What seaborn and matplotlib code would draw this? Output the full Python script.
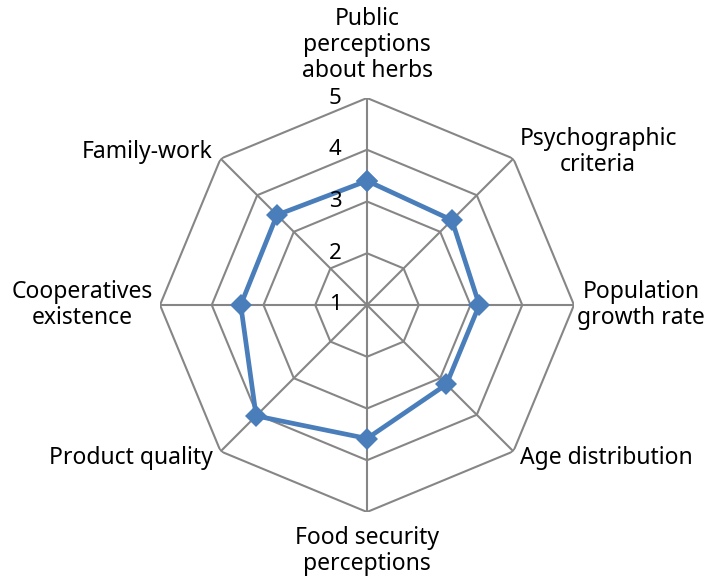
import numpy as np
import pandas as pd
import matplotlib
matplotlib.use("Agg")
import matplotlib.pyplot as plt
import seaborn as sns

# values
categories = ["Public\nperceptions\nabout herbs", "Psychographic\ncriteria", "Population\ngrowth rate",
              "Age distribution", "Food security\nperceptions", "Product quality",
              "Cooperatives\nexistence", "Family-work"]
scores = [3.4, 3.32, 3.17, 3.17, 3.58, 4.03, 3.44, 3.46]
ring_ticks = [1, 2, 3, 4, 5]

sns.set_theme(style="white")
plt.rcParams['font.family'] = ['Noto Sans', 'DejaVu Sans']

n = len(categories)
angles = np.linspace(0, 2 * np.pi, n, endpoint=False)

df = pd.DataFrame({"angle": np.append(angles, angles[0]),
                   "score": scores + scores[:1]})

fig = plt.figure(figsize=(7.13, 5.8), dpi=100)
ax = fig.add_axes([160 / 713, 68 / 580, 414 / 713, 414 / 580], projection="polar")
ax.set_theta_zero_location("N")
ax.set_theta_direction(-1)
ax.set_ylim(ring_ticks[0], ring_ticks[-1])
ax.spines["polar"].set_visible(False)
ax.grid(False)
ax.set_xticks([])
ax.set_yticks([])

grid_col = "#868686"
# octagon rings and spokes
for lvl in ring_ticks[1:]:
    ax.plot(np.append(angles, angles[0]), [lvl] * (n + 1), color=grid_col, lw=1.5, zorder=1)
for a in angles:
    ax.plot([a, a], [ring_ticks[0], ring_ticks[-1]], color=grid_col, lw=1.5, zorder=1)

sns.lineplot(data=df, x="angle", y="score", ax=ax, sort=False, estimator=None,
             color="#4A7EBB", lw=3.4, marker="D", markersize=11, markeredgewidth=0, zorder=3)
ax.set_xlabel("")
ax.set_ylabel("")

# scale numbers along the top spoke
for lvl in ring_ticks:
    ax.annotate(str(lvl), (0, lvl), xytext=(-32, 0), textcoords="offset pixels",
                ha="center", va="center", fontsize=16, color="black")

# category labels around the outer ring
offsets = [(0, 15, "center", "bottom"), (6, 7, "left", "center"), (3, 0, "left", "center"),
           (7, -7, "left", "center"), (0, -14, "center", "top"), (-8, -7, "right", "center"),
           (-7, 0, "right", "center"), (-8, 7, "right", "center")]
for a, lab, (dx, dy, ha, va) in zip(angles, categories, offsets):
    ax.annotate(lab, (a, ring_ticks[-1]), xytext=(dx, dy), textcoords="offset pixels",
                ha=ha, va=va, multialignment="center", fontsize=16.5, linespacing=1.12,
                color="black", annotation_clip=False)

fig.savefig("out.png", dpi=100)
